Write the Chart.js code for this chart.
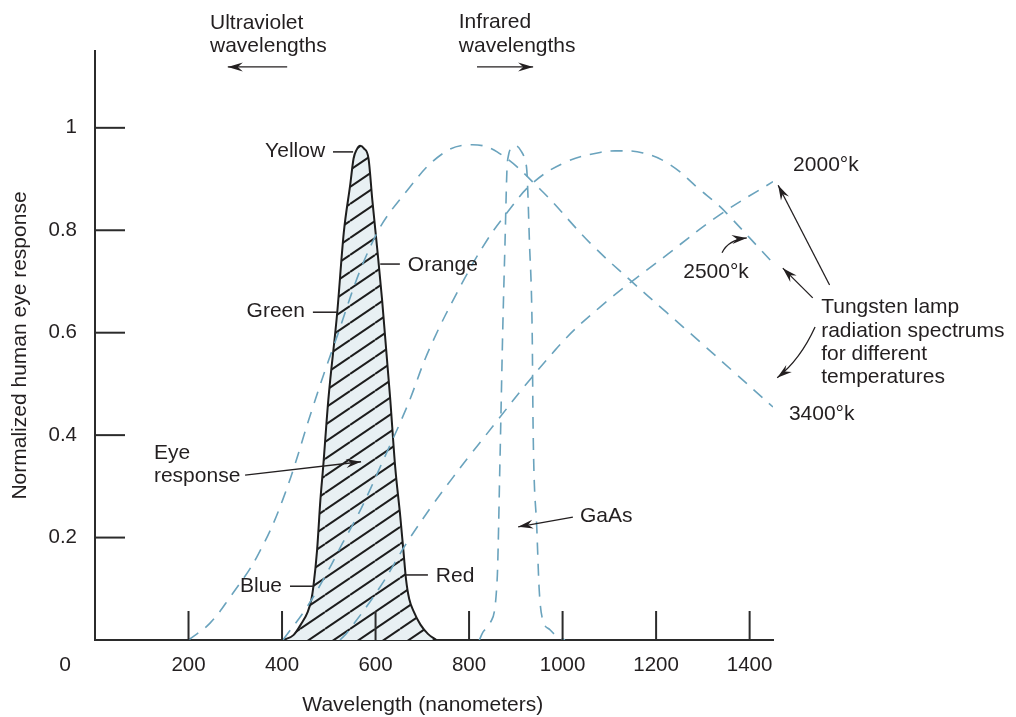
<!DOCTYPE html>
<html>
<head>
<meta charset="utf-8">
<script src="https://cdn.jsdelivr.net/npm/chart.js@4.4.1/dist/chart.umd.min.js"></script>
<style>
  html, body { margin: 0; padding: 0; background: #fff; }
  canvas { display: block; }
</style>
</head>
<body>
<canvas id="chart" width="1016" height="717"></canvas>
<script>
// axis ticks
const xTicks = [200, 400, 600, 800, 1000, 1200, 1400];
const yTicks = [0.2, 0.4, 0.6, 0.8, 1];

// eye response (hatched area)
const eyeWl   = [403, 425, 440, 455, 463, 467, 475, 482, 488, 499, 518, 532, 546, 553, 560, 567, 575, 585, 593, 604, 614, 631, 642, 653, 660, 665, 672, 682, 696, 712, 730];
const eyeResp = [0, 0.01, 0.03, 0.055, 0.08, 0.104, 0.176, 0.273, 0.338, 0.469, 0.639, 0.795, 0.89, 0.94, 0.958, 0.965, 0.96, 0.94, 0.86, 0.76, 0.664, 0.475, 0.338, 0.24, 0.17, 0.12, 0.08, 0.055, 0.03, 0.012, 0];

// GaAs emitter
const gaasWl   = [822, 830, 845, 860, 866, 872, 877, 881, 884, 892, 900, 911, 920, 924, 929, 935, 937, 945, 950, 956, 973, 990, 1005];
const gaasResp = [0, 0.016, 0.033, 0.117, 0.346, 0.605, 0.78, 0.918, 0.945, 0.962, 0.965, 0.955, 0.935, 0.91, 0.78, 0.6, 0.41, 0.215, 0.098, 0.045, 0.02, 0.006, 0];

// tungsten lamp spectra
const t3400Wl   = [200, 246, 289, 346, 402, 466, 507, 595, 674, 744, 802, 860, 952, 1059, 1144, 1223, 1294, 1364, 1450];
const t3400Resp = [0, 0.033, 0.084, 0.162, 0.275, 0.455, 0.565, 0.78, 0.885, 0.95, 0.967, 0.953, 0.88, 0.775, 0.703, 0.639, 0.582, 0.525, 0.455];

const t2500Wl   = [402, 453, 496, 530, 560, 588, 610, 667, 716, 787, 838, 881, 937, 1009, 1080, 1118, 1172, 1230, 1294, 1332, 1352, 1450];
const t2500Resp = [0, 0.064, 0.131, 0.19, 0.24, 0.293, 0.338, 0.455, 0.57, 0.7, 0.78, 0.834, 0.893, 0.934, 0.952, 0.955, 0.951, 0.928, 0.879, 0.85, 0.832, 0.736];

const t2000Wl   = [524, 539, 610, 667, 723, 766, 802, 984, 1080, 1223, 1336, 1450];
const t2000Resp = [0, 0.014, 0.104, 0.19, 0.265, 0.318, 0.361, 0.566, 0.65, 0.752, 0.83, 0.895];

const FONT = '"Liberation Sans", Arial, Helvetica, sans-serif';
const INK = "#231f20";
const DASH = "#6aa3bd";

const pts = (xs, ys) => xs.map((x, i) => ({ x: x, y: ys[i] }));

function hatch() {
  const c = document.createElement("canvas");
  c.width = 25; c.height = 17;
  const g = c.getContext("2d");
  g.fillStyle = "#e8f0f3";
  g.fillRect(0, 0, 25, 17);
  g.strokeStyle = "#1c1c1c";
  g.lineWidth = 2;
  for (let k = -1; k <= 1; k++) {
    g.beginPath();
    g.moveTo(0, 17 + k * 17);
    g.lineTo(25, k * 17);
    g.stroke();
  }
  return g.createPattern(c, "repeat");
}

// smooth lamp curves use plain bezier, steep ones stay monotone
function dashed(label, data, smooth) {
  return {
    label: label, data: data, borderColor: DASH, borderWidth: 1.6,
    borderDash: [12, 9], fill: false, order: 1,
    cubicInterpolationMode: smooth ? "default" : "monotone",
    tension: 0.4
  };
}

// text notes, in data units: [text, wavelength, response, align]
const notes = [
  ["Ultraviolet", 246, 1.193, "left"],
  ["wavelengths", 246, 1.148, "left"],
  ["Infrared", 778, 1.195, "left"],
  ["wavelengths", 778, 1.148, "left"],
  ["Yellow", 492, 0.943, "right"],
  ["Green", 449, 0.631, "right"],
  ["Orange", 669, 0.72, "left"],
  ["Blue", 400, 0.094, "right"],
  ["Red", 729, 0.113, "left"],
  ["Eye", 126, 0.353, "left"],
  ["response", 126, 0.308, "left"],
  ["GaAs", 1037, 0.23, "left"],
  ["2000°k", 1493, 0.916, "left"],
  ["2500°k", 1258, 0.707, "left"],
  ["3400°k", 1484, 0.43, "left"],
  ["Tungsten lamp", 1553, 0.638, "left"],
  ["radiation spectrums", 1553, 0.592, "left"],
  ["for different", 1553, 0.547, "left"],
  ["temperatures", 1553, 0.502, "left"],
  ["0", -64, -0.0605, "center"],
  ["Wavelength (nanometers)", 701, -0.139, "center"]
];

// label leader lines: [x1, x2, y]
const leaders = [
  [509, 552, 0.953],
  [466, 517, 0.640],
  [610, 652, 0.734],
  [417, 466, 0.105],
  [663, 712, 0.127]
];

// arrows: [x1, y1, x2, y2, ctrlX, ctrlY]
const arrows = [
  [411, 1.119, 284, 1.119],
  [817, 1.119, 937, 1.119],
  [321, 0.322, 569, 0.348],
  [1022, 0.240, 905, 0.221],
  [1341, 0.756, 1394, 0.785, 1354, 0.781],
  [1571, 0.693, 1461, 0.888],
  [1535, 0.668, 1471, 0.726],
  [1540, 0.611, 1459, 0.512, 1508, 0.547]
];

function drawArrow(ctx, x1, y1, x2, y2, cx, cy) {
  ctx.beginPath();
  ctx.moveTo(x1, y1);
  let dx, dy;
  if (cx !== undefined) {
    ctx.quadraticCurveTo(cx, cy, x2, y2);
    dx = x2 - cx; dy = y2 - cy;
  } else {
    ctx.lineTo(x2, y2);
    dx = x2 - x1; dy = y2 - y1;
  }
  ctx.stroke();
  const a = Math.atan2(dy, dx);
  ctx.save();
  ctx.translate(x2, y2);
  ctx.rotate(a);
  ctx.beginPath();
  ctx.moveTo(0, 0);
  ctx.lineTo(-15, -4.5);
  ctx.lineTo(-10, 0);
  ctx.lineTo(-15, 4.5);
  ctx.closePath();
  ctx.fill();
  ctx.restore();
}

const decor = {
  id: "decor",
  afterDraw(chart) {
    const ctx = chart.ctx;
    const xs = chart.scales.x, ys = chart.scales.y;
    const X = v => xs.getPixelForValue(v);
    const Y = v => ys.getPixelForValue(v);
    const area = chart.chartArea;
    ctx.save();
    ctx.strokeStyle = "#2b2b2b";
    ctx.fillStyle = INK;

    // inward tick marks
    ctx.lineWidth = 2;
    yTicks.forEach(v => {
      ctx.beginPath();
      ctx.moveTo(area.left, Y(v));
      ctx.lineTo(area.left + 30, Y(v));
      ctx.stroke();
    });
    xTicks.forEach(v => {
      ctx.beginPath();
      ctx.moveTo(X(v), area.bottom);
      ctx.lineTo(X(v), area.bottom - 29);
      ctx.stroke();
    });

    // leaders
    ctx.lineWidth = 1.5;
    ctx.strokeStyle = INK;
    leaders.forEach(l => {
      ctx.beginPath();
      ctx.moveTo(X(l[0]), Y(l[2]));
      ctx.lineTo(X(l[1]), Y(l[2]));
      ctx.stroke();
    });

    // arrows
    ctx.lineWidth = 1.3;
    arrows.forEach(a => {
      if (a.length > 4) drawArrow(ctx, X(a[0]), Y(a[1]), X(a[2]), Y(a[3]), X(a[4]), Y(a[5]));
      else drawArrow(ctx, X(a[0]), Y(a[1]), X(a[2]), Y(a[3]));
    });

    // text
    ctx.font = "21px " + FONT;
    ctx.textBaseline = "alphabetic";
    notes.forEach(n => {
      ctx.textAlign = n[3];
      ctx.fillText(n[0], X(n[1]), Y(n[2]));
    });
    ctx.restore();
  }
};

new Chart(document.getElementById("chart"), {
  type: "line",
  data: {
    datasets: [
      {
        label: "Eye response", data: pts(eyeWl, eyeResp),
        borderColor: "#1e1e1e", borderWidth: 2,
        backgroundColor: hatch(), fill: "origin", order: 5,
        cubicInterpolationMode: "monotone"
      },
      dashed("3400°k", pts(t3400Wl, t3400Resp), true),
      dashed("2500°k", pts(t2500Wl, t2500Resp), true),
      dashed("2000°k", pts(t2000Wl, t2000Resp), true),
      dashed("GaAs", pts(gaasWl, gaasResp), false)
    ]
  },
  options: {
    responsive: false,
    animation: false,
    devicePixelRatio: 1,
    layout: { padding: { top: 51, right: 243, left: 0, bottom: 0 } },
    plugins: { legend: { display: false }, tooltip: { enabled: false } },
    elements: { point: { radius: 0 } },
    scales: {
      x: {
        type: "linear", min: 0, max: 1450,
        afterBuildTicks: s => { s.ticks = xTicks.map(v => ({ value: v })); },
        afterFit: s => { s.height = 77; },
        grid: { display: false, drawTicks: false },
        border: { display: true, color: "#2b2b2b", width: 2 },
        ticks: {
          autoSkip: false, maxRotation: 0, padding: 13, color: INK,
          font: { family: FONT, size: 20.5 },
          callback: v => String(v)
        },
        title: { display: false }
      },
      y: {
        type: "linear", min: 0, max: 1.15,
        afterBuildTicks: s => { s.ticks = yTicks.map(v => ({ value: v })); },
        afterFit: s => { s.width = 95; },
        grid: { display: false, drawTicks: false },
        border: { display: true, color: "#2b2b2b", width: 2 },
        ticks: {
          padding: 18, color: INK,
          font: { family: FONT, size: 20.5 },
          callback: v => String(v)
        },
        title: {
          display: true, text: "Normalized human eye response", color: INK,
          font: { family: FONT, size: 21 }, padding: { top: 8, bottom: 0 }
        }
      }
    }
  },
  plugins: [decor]
});
</script>
</body>
</html>
